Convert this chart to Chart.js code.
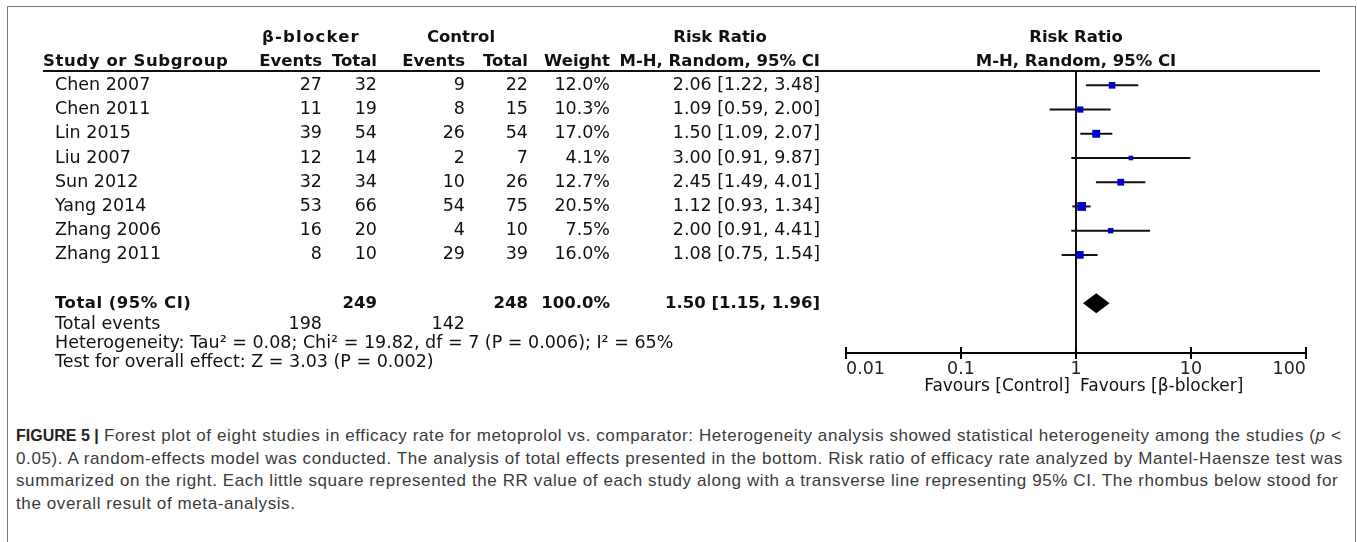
<!DOCTYPE html>
<html><head><meta charset="utf-8">
<script src="https://cdn.jsdelivr.net/npm/chart.js@4.4.1/dist/chart.umd.min.js"></script>
<style>
html,body{margin:0;padding:0;background:#fff;width:1357px;height:542px;overflow:hidden;}
#frame{position:absolute;left:7px;top:6px;width:1349px;height:600px;border:1.5px solid #7a7a7a;box-sizing:border-box;}
#wrap{position:absolute;left:0;top:0;width:1357px;height:420px;}
#caption{position:absolute;left:16px;top:425px;font-family:"Liberation Sans",Arial,sans-serif;font-size:17px;letter-spacing:0.6px;line-height:22.5px;color:#3a3a3a;white-space:nowrap;}
#caption b{color:#222;font-size:16px;letter-spacing:0;}
</style></head><body>
<div id="frame"></div>
<div id="wrap"><canvas id="c" width="1357" height="420" style="width:1357px;height:420px"></canvas></div>
<div id="caption">
<b>FIGURE 5 |</b> Forest plot of eight studies in efficacy rate for metoprolol vs. comparator: Heterogeneity analysis showed statistical heterogeneity among the studies (<i>p</i> &lt;<br>
0.05). A random-effects model was conducted. The analysis of total effects presented in the bottom. Risk ratio of efficacy rate analyzed by Mantel-Haensze test was<br>
summarized on the right. Each little square represented the RR value of each study along with a transverse line representing 95% CI. The rhombus below stood for<br>
the overall result of meta-analysis.
</div>
<script>
// ---- data ----
const studies = ["Chen 2007","Chen 2011","Lin 2015","Liu 2007","Sun 2012","Yang 2014","Zhang 2006","Zhang 2011"];
const bbEvents = [27,11,39,12,32,53,16,8];
const bbTotal = [32,19,54,14,34,66,20,10];
const ctrlEvents = [9,8,26,2,10,54,4,29];
const ctrlTotal = [22,15,54,7,26,75,10,39];
const weights = [12.0,10.3,17.0,4.1,12.7,20.5,7.5,16.0];
const rr = [2.06,1.09,1.50,3.00,2.45,1.12,2.00,1.08];
const rrLow = [1.22,0.59,1.09,0.91,1.49,0.93,0.91,0.75];
const rrHigh = [3.48,2.00,2.07,9.87,4.01,1.34,4.41,1.54];
const totalLabel = "Total (95% CI)";
const totalBB = [249];
const totalCtrl = [248];
const totalWeight = [100.0];
const totalRR = [1.50];
const totalLow = [1.15];
const totalHigh = [1.96];
const totalEventsBB = [198];
const totalEventsCtrl = [142];
const heterogeneityText = "Heterogeneity: Tau\u00B2 = 0.08; Chi\u00B2 = 19.82, df = 7 (P = 0.006); I\u00B2 = 65%";
const overallText = "Test for overall effect: Z = 3.03 (P = 0.002)";
const xTicks = [0.01,0.1,1,10,100];
const xTickLabels = ["0.01","0.1","1","10","100"];
const favoursLeft = "Favours [Control]";
const favoursRight = "Favours [\u03B2-blocker]";

const FONT = '"DejaVu Sans", Verdana, sans-serif';
const fmt = (v, d) => v.toFixed(d);
const ciText = (m, l, h) => fmt(m,2) + " [" + fmt(l,2) + ", " + fmt(h,2) + "]";

// row positions on the y scale
const totalRow = 9;
const totalEventsRow = 9.87;
const hetRow = 10.65;
const testRow = 11.42;

// column right edges
const colBE = 322, colBT = 377, colCE = 465, colCT = 528, colW = 610, colRR = 820;

const forestPlugin = {
  id: 'forest',
  beforeDatasetsDraw(chart) {
    const {ctx, chartArea, scales:{x, y}} = chart;
    ctx.save();
    ctx.strokeStyle = '#111'; ctx.lineWidth = 2;
    ctx.beginPath(); ctx.moveTo(43, chartArea.top - 1); ctx.lineTo(1320, chartArea.top - 1); ctx.stroke();
    const x1 = x.getPixelForValue(1);
    ctx.beginPath(); ctx.moveTo(x1, chartArea.top); ctx.lineTo(x1, chartArea.bottom); ctx.stroke();
    studies.forEach((s, i) => {
      const py = y.getPixelForValue(i);
      ctx.beginPath();
      ctx.moveTo(x.getPixelForValue(rrLow[i]), py);
      ctx.lineTo(x.getPixelForValue(rrHigh[i]), py);
      ctx.stroke();
    });
    const dy = y.getPixelForValue(totalRow);
    ctx.fillStyle = '#000';
    ctx.beginPath();
    ctx.moveTo(x.getPixelForValue(totalLow[0]), dy);
    ctx.lineTo(x.getPixelForValue(totalRR[0]), dy - 10);
    ctx.lineTo(x.getPixelForValue(totalHigh[0]), dy);
    ctx.lineTo(x.getPixelForValue(totalRR[0]), dy + 10);
    ctx.closePath(); ctx.fill();
    ctx.restore();
  },
  afterDraw(chart) {
    const {ctx, chartArea, scales:{x, y}} = chart;
    ctx.save();
    ctx.strokeStyle = '#000'; ctx.lineWidth = 2;
    xTicks.forEach(v => {
      const px = x.getPixelForValue(v);
      ctx.beginPath(); ctx.moveTo(px, chartArea.bottom - 6); ctx.lineTo(px, chartArea.bottom); ctx.stroke();
    });
    ctx.fillStyle = '#111';
    ctx.textBaseline = 'middle';
    const txt = (t, px, py, align, bold, ls) => {
      ctx.font = (bold ? 'bold 16.5px ' : '17.5px ') + FONT;
      ctx.letterSpacing = (ls || 0) + 'px';
      ctx.textAlign = align;
      ctx.fillText(t, px, py);
    };
    const h1 = 38, h2 = 62;
    txt("\u03B2-blocker", 262, h1, 'left', true, 1.2);
    txt("Control", 461, h1, 'center', true);
    txt("Risk Ratio", 720, h1, 'center', true);
    txt("Study or Subgroup", 43, h2, 'left', true, 0.6);
    txt("Events", colBE, h2, 'right', true);
    txt("Total", colBT, h2, 'right', true);
    txt("Events", colCE, h2, 'right', true);
    txt("Total", colCT, h2, 'right', true);
    txt("Weight", colW, h2, 'right', true);
    txt("M-H, Random, 95% CI", colRR, h2, 'right', true);
    const xc = x.getPixelForValue(1);
    txt("Risk Ratio", xc, h1, 'center', true);
    txt("M-H, Random, 95% CI", xc, h2, 'center', true);
    studies.forEach((s, i) => {
      const py = y.getPixelForValue(i);
      txt(s, 55, py, 'left');
      txt(String(bbEvents[i]), colBE, py, 'right');
      txt(String(bbTotal[i]), colBT, py, 'right');
      txt(String(ctrlEvents[i]), colCE, py, 'right');
      txt(String(ctrlTotal[i]), colCT, py, 'right');
      txt(fmt(weights[i],1) + "%", colW, py, 'right');
      txt(ciText(rr[i], rrLow[i], rrHigh[i]), colRR, py, 'right');
    });
    let py = y.getPixelForValue(totalRow);
    txt(totalLabel, 55, py, 'left', true, 0.5);
    txt(String(totalBB[0]), colBT, py, 'right', true);
    txt(String(totalCtrl[0]), colCT, py, 'right', true);
    txt(fmt(totalWeight[0],1) + "%", colW, py, 'right', true);
    txt(ciText(totalRR[0], totalLow[0], totalHigh[0]), colRR, py, 'right', true);
    py = y.getPixelForValue(totalEventsRow);
    txt("Total events", 55, py, 'left');
    txt(String(totalEventsBB[0]), colBE, py, 'right');
    txt(String(totalEventsCtrl[0]), colCE, py, 'right');
    txt(heterogeneityText, 55, y.getPixelForValue(hetRow), 'left');
    txt(overallText, 55, y.getPixelForValue(testRow), 'left');
    ctx.font = '17px ' + FONT;
    ctx.letterSpacing = '0px';
    ctx.fillStyle = '#111';
    const fy = chartArea.bottom + 34;
    ctx.textAlign = 'right'; ctx.fillText(favoursLeft, xc - 6, fy);
    ctx.textAlign = 'left'; ctx.fillText(favoursRight, xc + 4, fy);
    ctx.restore();
  }
};

const pointData = studies.map((s, i) => ({x: rr[i], y: i}));
const sideOf = w => 3.5 + 0.26 * w;
new Chart(document.getElementById('c'), {
  type: 'scatter',
  data: { datasets: [{
    data: pointData,
    pointStyle: 'rect',
    pointRadius: weights.map(w => sideOf(w) / 1.414),
    pointHoverRadius: weights.map(w => sideOf(w) / 1.414),
    backgroundColor: '#0000c8',
    borderColor: '#0000c8',
    borderWidth: 0
  }]},
  options: {
    responsive: false,
    animation: false,
    events: [],
    layout: { padding: { left: 846, right: 51, top: 72, bottom: 40 } },
    plugins: { legend: { display: false }, tooltip: { enabled: false } },
    scales: {
      x: {
        type: 'logarithmic', min: 0.01, max: 100,
        afterBuildTicks: s => { s.ticks = xTicks.map(v => ({ value: v })); },
        ticks: {
          callback: (v, i) => xTickLabels[i],
          align: 'inner', autoSkip: false, maxRotation: 0, minRotation: 0,
          padding: 0, color: '#222', font: { family: FONT, size: 17.5 }
        },
        grid: { display: true, drawOnChartArea: false, drawTicks: true, tickLength: 6, color: '#000', lineWidth: 2 },
        border: { display: true, color: '#000', width: 2 }
      },
      y: { type: 'linear', min: -0.55, max: 11.05, reverse: true, display: false }
    }
  },
  plugins: [forestPlugin]
});
</script>
</body></html>
